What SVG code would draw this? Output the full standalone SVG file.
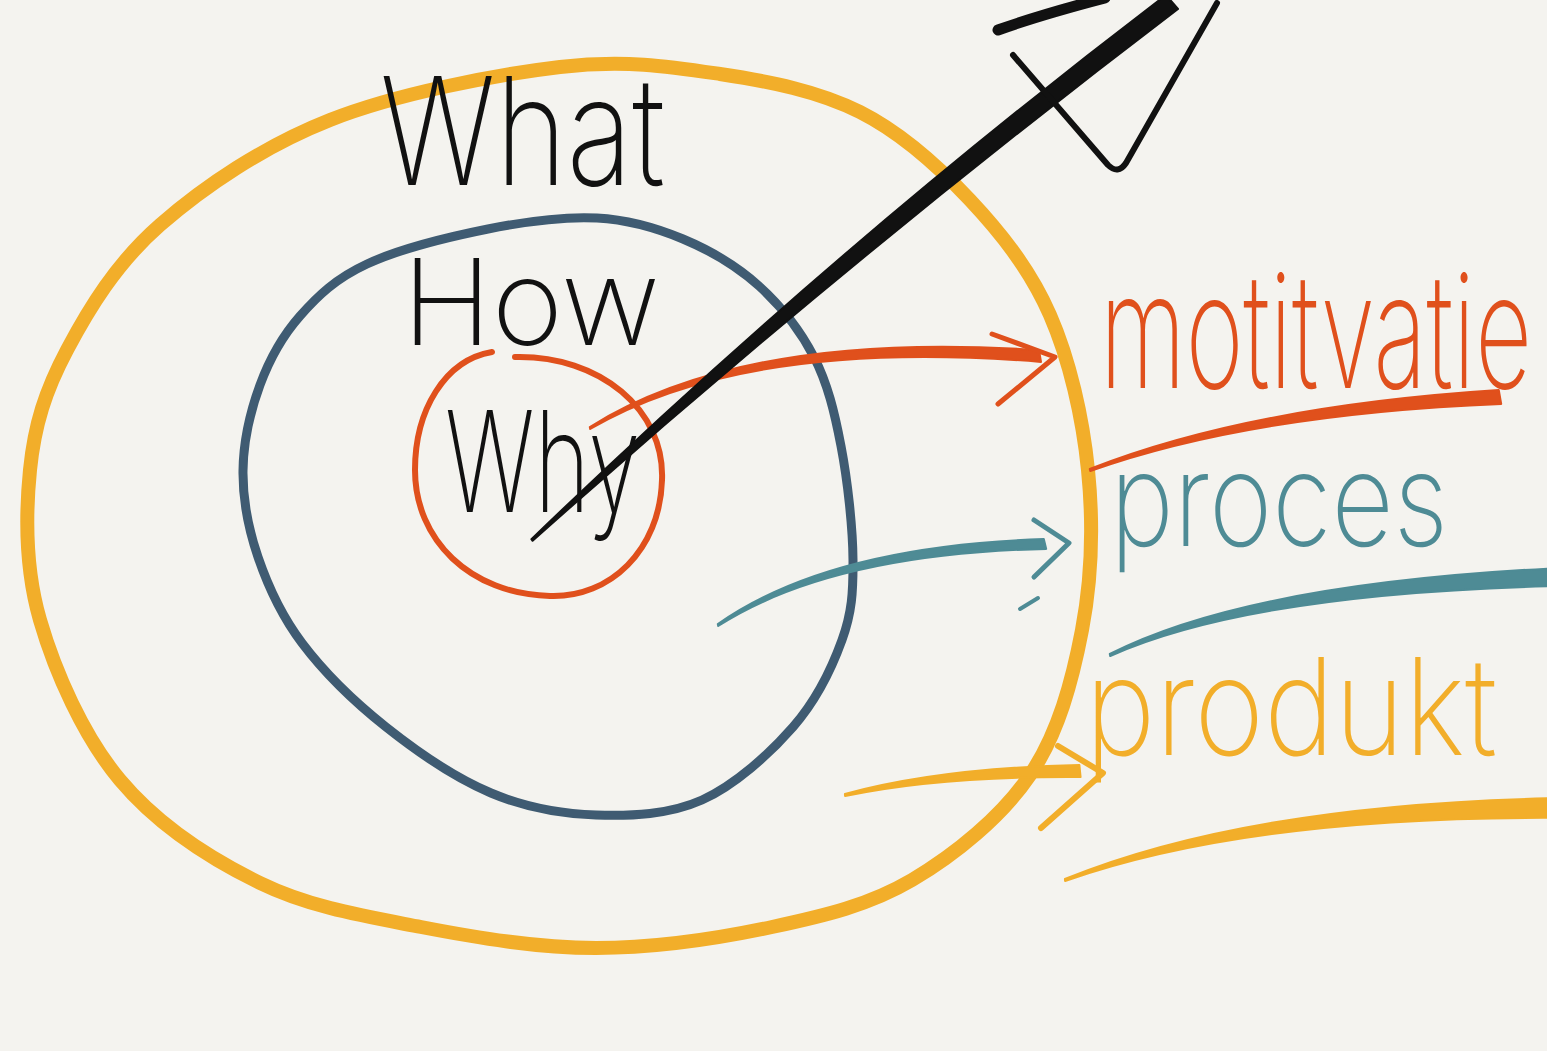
<svg xmlns="http://www.w3.org/2000/svg" width="1547" height="1051" viewBox="0 0 1547 1051">
<style>
.ring{fill:none;stroke-linecap:round;stroke-linejoin:round}
.ink{font-family:"Inter","Open Sans","Liberation Sans",sans-serif;font-weight:200}
.brush{stroke-width:2;stroke-linejoin:round}
.head{fill:none;stroke-linecap:round;stroke-linejoin:round}
</style>
<rect x="0" y="0" width="1547" height="1051" fill="#f4f3ef"/>

<g id="outer-ring">
<path class="ring" stroke="#f2ae2a" stroke-width="14" d="M560,67 C625,59.3 670,66.5 720,74 C770,81.5 818.3,91 860,112 C901.7,133 938.3,166.2 970,200 C1001.7,233.8 1030.3,270 1050,315 C1069.7,360 1082.7,417.5 1088,470 C1093.3,522.5 1091.7,579.2 1082,630 C1072.3,680.8 1058.3,733.3 1030,775 C1001.7,816.7 955,854.7 912,880 C869,905.3 824.7,915.7 772,927 C719.3,938.3 654.5,948 596,948 C537.5,948 477,937.8 421,927 C365,916.2 310.2,907.5 260,883 C209.8,858.5 156.7,823.8 120,780 C83.3,736.2 55,671.7 40,620 C25,568.3 25.5,515 30,470 C34.5,425 45.3,390.8 67,350 C88.7,309.2 116.2,263.3 160,225 C203.8,186.7 263.3,146.3 330,120 C396.7,93.7 495,74.7 560,67 Z"/>
</g>

<g id="middle-ring">
<path class="ring" stroke="#3f5b72" stroke-width="9" d="M597,218 C629.5,219.7 656,227.7 683,239 C710,250.3 737.2,266.3 759,286 C780.8,305.7 800.3,330.3 814,357 C827.7,383.7 834.5,412.2 841,446 C847.5,479.8 852.8,527.7 853,560 C853.2,592.3 852,612.2 842,640 C832,667.8 816.3,700.3 793,727 C769.7,753.7 734.8,785.3 702,800 C669.2,814.7 631.2,816.2 596,815 C560.8,813.8 526,807.7 491,793 C456,778.3 417.5,752 386,727 C354.5,702 323.3,671.3 302,643 C280.7,614.7 267.8,585.7 258,557 C248.2,528.3 242.7,499.7 243,471 C243.3,442.3 250.5,410.8 260,385 C269.5,359.2 282.2,336.2 300,316 C317.8,295.8 335.7,278.5 367,264 C398.3,249.5 449.7,236.7 488,229 C526.3,221.3 564.5,216.3 597,218 Z"/>
</g>

<g id="inner-ring">
<path class="ring" stroke="#e0501c" stroke-width="6" d="M515,357 C600,355 665,410 662,480 C660,550 610,598 550,596 C470,594 415,540 415,470 C415,410 445,360 492,352"/>
</g>

<g id="label-what"><text class="ink" transform="translate(380,185) scale(0.805,1)" x="0" y="0" font-size="150" textLength="354" lengthAdjust="spacingAndGlyphs" fill="#111">What</text></g>
<g id="label-how"><text class="ink" transform="translate(402,345) scale(1.07,1)" x="0" y="0" font-size="120" textLength="241" lengthAdjust="spacingAndGlyphs" fill="#111">How</text></g>
<g id="label-why"><text class="ink" transform="translate(445,512) scale(0.70,1)" x="0" y="0" font-size="140" textLength="279" lengthAdjust="spacingAndGlyphs" fill="#111">Why</text></g>

<g id="underlines">
<path class="brush" fill="#e0501c" stroke="#e0501c" d="M1089.8,469 Q1249.3,406.1 1498.8,390.1 L1501.2,403.9 Q1250.7,413.9 1090.2,471 Z"/>
<path class="brush" fill="#4e8b95" stroke="#4e8b95" d="M1109.8,654 Q1249.1,583.1 1558.5,568.1 L1561.5,585.9 Q1250.9,592.9 1110.2,656 Z"/>
<path class="brush" fill="#f2ae2a" stroke="#f2ae2a" d="M1064.9,879 Q1249.1,804.1 1558.6,798.1 L1561.4,817.9 Q1250.9,815.9 1065.1,881 Z"/>
</g>

<g id="label-motitvatie"><text class="ink" transform="translate(1100,388) scale(0.617,1)" x="0" y="0" font-size="160" textLength="700" lengthAdjust="spacingAndGlyphs" fill="#e0501c">motitvatie</text></g>
<g id="label-proces"><text class="ink" transform="translate(1110,546) scale(0.867,1)" x="0" y="0" font-size="130" textLength="390" lengthAdjust="spacingAndGlyphs" fill="#4e8b95">proces</text></g>
<g id="label-produkt"><text class="ink" transform="translate(1085,755) scale(0.884,1)" x="0" y="0" font-size="135" textLength="466" lengthAdjust="spacingAndGlyphs" fill="#f2ae2a">produkt</text></g>

<g id="connectors">
<g id="arrow-motitvatie">
<path class="brush" fill="#e0501c" stroke="#e0501c" d="M589.8,427 Q744.4,330 1039,350.1 L1041,361.9 Q745.6,338 590.2,429 Z"/>
<polyline class="head" stroke="#e0501c" stroke-width="5" points="992,334 1055,357 998,404"/>
</g>
<g id="arrow-proces">
<path class="brush" fill="#4e8b95" stroke="#4e8b95" d="M717.8,624 Q829,546.1 1043.8,539.1 L1046.2,548.9 Q831,553.9 718.2,626 Z"/>
<polyline class="head" stroke="#4e8b95" stroke-width="5" points="1034,520 1069,543 1034,577"/>
<line class="head" stroke="#4e8b95" stroke-width="4" x1="1020" y1="609" x2="1038" y2="598"/>
</g>
<g id="arrow-produkt">
<path class="brush" fill="#f2ae2a" stroke="#f2ae2a" d="M844.9,794 Q939.6,768 1079.4,765 L1080.6,777 Q940.4,776 845.1,796 Z"/>
<polyline class="head" stroke="#f2ae2a" stroke-width="6" points="1058,746 1103,773 1041,828"/>
</g>
<g id="arrow-out">
<path class="brush" fill="#111" stroke="#111" d="M531.4,539.2 Q832,249 1166,-5 L1178,9 Q844,263 532.6,540.8 Z"/>
<path class="head" stroke="#111" stroke-width="11" d="M998,30 Q1040,15 1105,-2"/>
<path class="head" stroke="#111" stroke-width="6" d="M1013,55 L1108,165 Q1118,175 1126,163 L1217,3"/>
</g>
</g>
</svg>
